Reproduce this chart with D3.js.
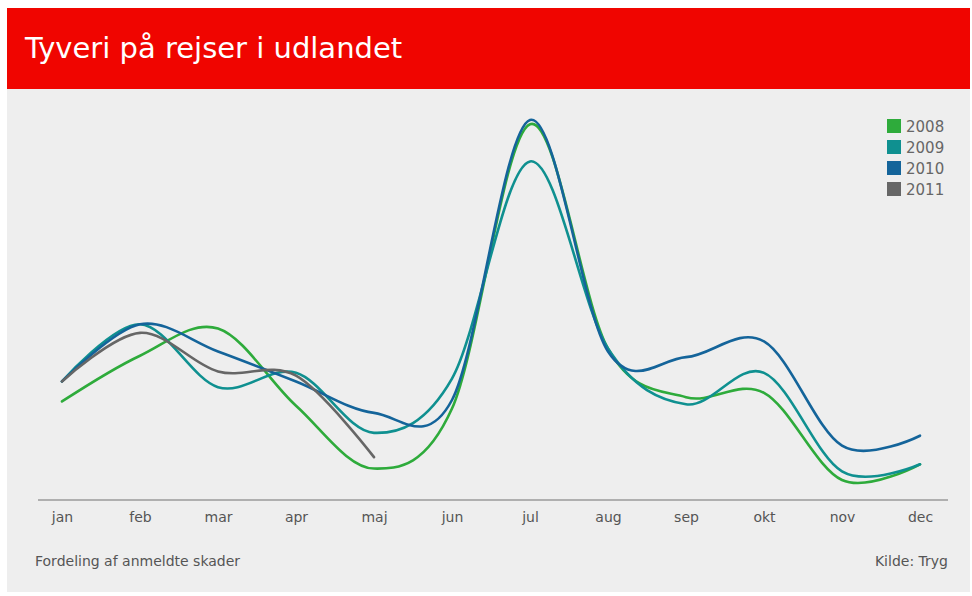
<!DOCTYPE html>
<html>
<head>
<meta charset="utf-8">
<script src="https://cdn.jsdelivr.net/npm/d3@7"></script>
<style>
  body { margin: 0; background: #fff; }
  text { font-family: "DejaVu Sans", sans-serif; }
</style>
</head>
<body>
<div id="chart"></div>
<script>
// monthly share of reported claims (%)
const months = ['jan', 'feb', 'mar', 'apr', 'maj', 'jun', 'jul', 'aug', 'sep', 'okt', 'nov', 'dec'];
const years = ['2008', '2009', '2010', '2011'];
const v2008 = [6.9, 10.1, 12.0, 6.6, 2.2, 6.4, 26.3, 10.6, 7.2, 7.5, 1.4, 2.5];
const v2009 = [8.3, 12.3, 7.9, 8.9, 4.7, 8.5, 23.7, 10.6, 6.7, 8.9, 2.0, 2.5];
const v2010 = [8.3, 12.3, 10.4, 8.3, 6.1, 7.0, 26.6, 10.4, 10.0, 11.1, 3.8, 4.5];
const v2011 = [8.3, 11.7, 9.0, 8.7, 3.0];
const colors = ['#2eab3b', '#0f9090', '#14649a', '#666666'];

const width = 972, height = 596;

const svg = d3.select('#chart').append('svg')
  .attr('width', width)
  .attr('height', height);

// panel + header
svg.append('rect').attr('x', 7).attr('y', 8).attr('width', 963).attr('height', 584).attr('fill', '#eeeeee');
svg.append('rect').attr('x', 7).attr('y', 8).attr('width', 963).attr('height', 81).attr('fill', '#f00500');
svg.append('text')
  .attr('x', 25).attr('y', 58)
  .attr('fill', '#fff')
  .style('font-size', '29px')
  .text('Tyveri på rejser i udlandet');

const x = d3.scalePoint().domain(months).range([62, 920]);
const y = d3.scaleLinear().domain([0, 28]).range([500, 100]);

// x axis
const axis = svg.append('g').attr('transform', 'translate(0,500)')
  .call(d3.axisBottom(x).tickSize(0).tickPadding(12));
axis.select('.domain').remove();
axis.selectAll('text')
  .style('font-size', '14px')
  .style('font-family', '"DejaVu Sans", sans-serif')
  .attr('fill', '#555');
svg.append('line')
  .attr('x1', 38).attr('x2', 948).attr('y1', 500).attr('y2', 500)
  .attr('stroke', '#9a9a9a').attr('stroke-width', 1.5);

const line = d3.line()
  .x((d, i) => x(months[i]))
  .y(d => y(d))
  .curve(d3.curveCardinal.tension(0));

const series = [v2008, v2009, v2010, v2011];
svg.append('g').selectAll('path')
  .data(series)
  .enter().append('path')
  .attr('d', line)
  .attr('fill', 'none')
  .attr('stroke', (d, i) => colors[i])
  .attr('stroke-width', 2.6)
  .attr('stroke-linecap', 'round');

// legend
const lg = svg.append('g').selectAll('g')
  .data(years)
  .enter().append('g')
  .attr('transform', (d, i) => 'translate(887,' + (119 + i * 21) + ')');
lg.append('rect').attr('width', 14).attr('height', 14).attr('fill', (d, i) => colors[i]);
lg.append('text')
  .attr('x', 19).attr('y', 13)
  .attr('fill', '#666')
  .style('font-size', '15px')
  .text(d => d);

// footer
svg.append('text')
  .attr('x', 35).attr('y', 566)
  .attr('fill', '#555')
  .style('font-size', '14px')
  .text('Fordeling af anmeldte skader');
svg.append('text')
  .attr('x', 948).attr('y', 566)
  .attr('text-anchor', 'end')
  .attr('fill', '#555')
  .style('font-size', '14px')
  .text('Kilde: Tryg');
</script>
</body>
</html>
